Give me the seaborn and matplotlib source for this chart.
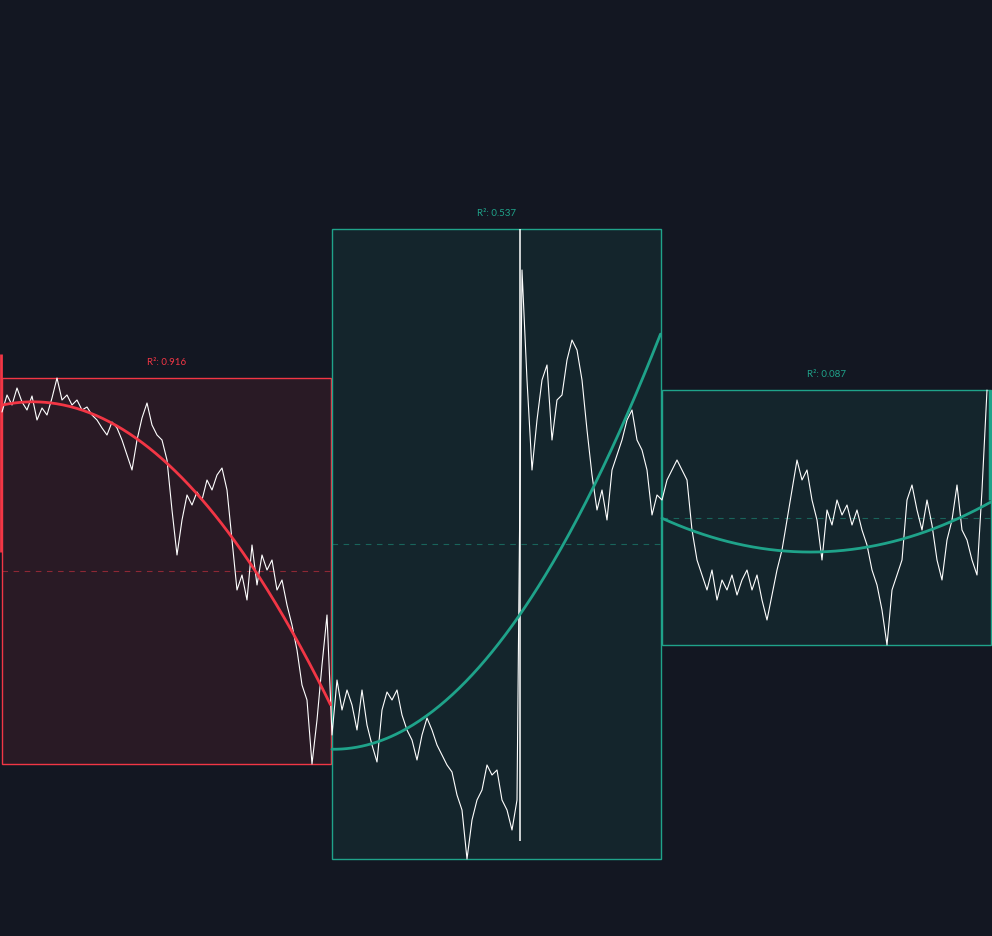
import numpy as np
import pandas as pd
import matplotlib.pyplot as plt
from matplotlib.patches import Rectangle
import seaborn as sns

# closing prices, one value per bar
price_a = [524, 541, 531, 548, 534, 526, 540, 516, 528, 521,
           538, 558, 536, 541, 531, 536, 526, 529, 521, 516,
           508, 501, 514, 508, 496, 481, 466, 496, 518, 533,
           511, 501, 496, 476, 426, 381, 416, 441, 431, 444,
           436, 456, 446, 461, 468, 446, 396, 346, 361, 336,
           391, 351, 381, 366, 376, 346, 356, 331, 311, 286,
           251, 236, 172, 216, 271, 321]
price_b = [201, 256, 226, 246, 231, 206, 246, 211, 191, 174,
           226, 244, 236, 246, 221, 206, 196, 176, 201, 218,
           206, 191, 181, 171, 164, 141, 126, 77, 116, 136,
           146, 171, 161, 166, 136, 126, 106, 136]
price_c = [666, 556, 466, 516, 556, 571, 496, 536, 541, 576,
           596, 586, 556, 506, 461, 426, 446, 416, 466, 481,
           496, 516, 526, 496, 486, 466, 421, 441]
price_d = [436, 456, 466, 476, 466, 456, 406, 376, 361, 346,
           366, 336, 356, 346, 361, 341, 356, 366, 346, 361,
           336, 316, 341, 366, 386, 416, 446, 476, 456, 466,
           436, 416, 376, 426, 411, 436, 421, 431, 411, 426,
           406, 391, 366, 351, 326, 291, 346, 361, 376, 436,
           451, 426, 406, 436, 411, 376, 356, 396, 416, 451,
           406, 396, 376, 361, 446, 546]

# the one huge wick candle
spike_bar = 104
spike_high = 707
spike_low = 95

# regression channels: (first bar, last bar)
segments = [(0, 65), (66, 131), (132, 197)]
r2_labels = ["0.916", "0.537", "0.087"]
seg_colors = ["#f23645", "#1fa38a", "#1fa38a"]

BG = "#131722"

sns.set_theme(style="dark", rc={"axes.facecolor": BG, "figure.facecolor": BG})
plt.rcParams['font.family'] = ['Lato', 'DejaVu Sans']

price = price_a + price_b + price_c + price_d
df = pd.DataFrame({"bar": np.arange(len(price)), "price": price})

fig = plt.figure(figsize=(9.92, 9.36), dpi=100)
ax = fig.add_axes([0, 0, 1, 1])
ax.set_facecolor(BG)

curves = []
for (s, e), r2, col in zip(segments, r2_labels, seg_colors):
    seg = df.iloc[s:e + 1]
    hi, lo = seg.price.max(), seg.price.min()
    if s <= spike_bar <= e:
        hi, lo = max(hi, spike_high), min(lo, spike_low)
    left, right = s, e + 0.7
    ax.add_patch(Rectangle((left, lo), right - left, hi - lo, facecolor=col,
                           alpha=0.1, edgecolor="none", zorder=1))
    ax.add_patch(Rectangle((left, lo), right - left, hi - lo, fill=False,
                           edgecolor=col, lw=1, zorder=2))
    ax.hlines((hi + lo) / 2, left, right, colors=col, lw=0.8,
              linestyles=(0, (5, 5)), alpha=0.5, zorder=2)
    coef = np.polyfit(seg.bar, seg.price, 2)
    xs = np.linspace(left, right, 200)
    curves.append((xs, np.polyval(coef, xs), col))
    ax.annotate(f"R²: {r2}", ((left + right) / 2, hi), xytext=(0, 11),
                textcoords="offset points", ha="center", va="center",
                color=col, fontsize=7)

# small drawing handles on the outer edges
ax.vlines(-0.15, 384, 582, colors=seg_colors[0], lw=2, zorder=3)
ax.vlines(197.6, 436, 546, colors=seg_colors[2], lw=2.5, zorder=3)

sns.lineplot(data=df, x="bar", y="price", color="white", lw=0.8, ax=ax, zorder=4)
ax.vlines(spike_bar - 0.4, spike_low, spike_high, colors="white", lw=1.1, zorder=4)

for xs, ys, col in curves:
    sns.lineplot(x=xs, y=ys, color=col, lw=2, ax=ax, zorder=5)

ax.set_xlim(-0.4, 198)
ax.set_ylim(0, 936)
ax.set_xticks([])
ax.set_yticks([])
ax.set_xlabel("")
ax.set_ylabel("")
for sp in ax.spines.values():
    sp.set_visible(False)

fig.savefig("out.png", dpi=100, facecolor=BG)
